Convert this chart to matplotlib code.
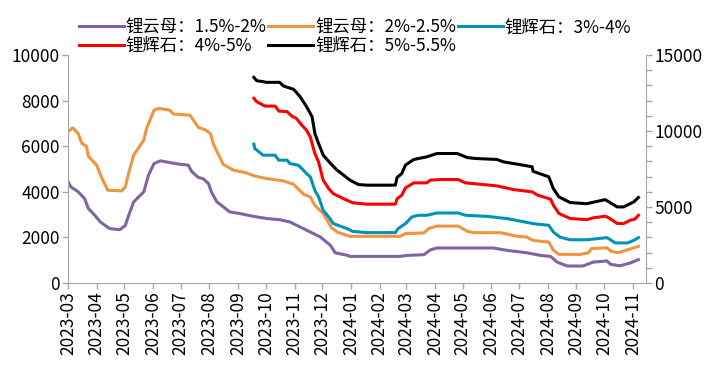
import matplotlib
matplotlib.use("Agg")
import matplotlib.pyplot as plt
import matplotlib.dates as mdates
from matplotlib.ticker import MultipleLocator
import pandas as pd

plt.rcParams["font.family"] = ["Noto Sans CJK SC", "DejaVu Sans"]

# 锂云母 (left axis)
lep1_dates = ["2023-03-01", "2023-03-04", "2023-03-12", "2023-03-19", "2023-03-23", "2023-03-30",
              "2023-04-05", "2023-04-15", "2023-04-26", "2023-05-02", "2023-05-05", "2023-05-11",
              "2023-05-22", "2023-05-27", "2023-06-02", "2023-06-09", "2023-06-21", "2023-06-30",
              "2023-07-09", "2023-07-13", "2023-07-20", "2023-07-25", "2023-07-31", "2023-08-03",
              "2023-08-09", "2023-08-16", "2023-08-23", "2023-09-03", "2023-09-17", "2023-10-02",
              "2023-10-16", "2023-10-27", "2023-11-07", "2023-11-18", "2023-11-29", "2023-12-10",
              "2023-12-15", "2023-12-28", "2023-12-31", "2024-02-23", "2024-03-02", "2024-03-20",
              "2024-03-27", "2024-04-03", "2024-06-03", "2024-06-18", "2024-07-09", "2024-07-24",
              "2024-08-04", "2024-08-11", "2024-08-22", "2024-09-08", "2024-09-19", "2024-10-04",
              "2024-10-08", "2024-10-18", "2024-10-29", "2024-11-07"]
lep1_vals = [4450, 4220, 4000, 3700, 3270, 2970,
             2680, 2390, 2340, 2530, 2900, 3560,
             4000, 4730, 5240, 5360, 5270, 5210,
             5170, 4880, 4630, 4580, 4360, 4000,
             3560, 3340, 3120, 3050, 2930, 2830,
             2780, 2680, 2460, 2240, 2020, 1650,
             1330, 1220, 1170, 1170, 1215, 1245,
             1460, 1540, 1540, 1435, 1330, 1215,
             1170, 920, 750, 750, 920, 970,
             820, 760, 880, 1030]

lep2_dates = ["2023-03-01", "2023-03-06", "2023-03-12", "2023-03-16", "2023-03-21", "2023-03-23",
              "2023-04-01", "2023-04-06", "2023-04-13", "2023-04-28", "2023-05-02", "2023-05-05",
              "2023-05-11", "2023-05-22", "2023-05-25", "2023-06-02", "2023-06-07", "2023-06-19",
              "2023-06-23", "2023-07-11", "2023-07-15", "2023-07-20", "2023-07-27", "2023-08-02",
              "2023-08-05", "2023-08-11", "2023-08-16", "2023-08-27", "2023-09-10", "2023-09-19",
              "2023-10-02", "2023-10-20", "2023-10-31", "2023-11-11", "2023-11-18", "2023-11-23",
              "2023-12-02", "2023-12-11", "2023-12-17", "2023-12-28", "2023-12-31", "2024-02-23",
              "2024-02-29", "2024-03-20", "2024-03-25", "2024-04-03", "2024-04-26", "2024-05-06",
              "2024-05-13", "2024-06-11", "2024-06-29", "2024-07-09", "2024-07-16", "2024-08-02",
              "2024-08-07", "2024-08-13", "2024-09-05", "2024-09-14", "2024-09-17", "2024-10-04",
              "2024-10-08", "2024-10-16", "2024-10-26", "2024-11-07"]
lep2_vals = [6630, 6810, 6560, 6120, 6000, 5560,
             5170, 4660, 4070, 4040, 4220, 4730,
             5610, 6270, 6780, 7580, 7660, 7580,
             7410, 7360, 7120, 6820, 6730, 6560,
             6120, 5610, 5200, 4950, 4830, 4690,
             4580, 4480, 4330, 3890, 3780, 3410,
             3050, 2430, 2240, 2090, 2050, 2050,
             2170, 2200, 2390, 2500, 2500, 2270,
             2210, 2210, 2050, 2020, 1870, 1800,
             1440, 1260, 1260, 1330, 1510, 1550,
             1400, 1330, 1460, 1610]

# 锂辉石 (right axis)
spo3_dates = ["2023-09-18", "2023-09-19", "2023-09-28", "2023-10-11", "2023-10-15", "2023-10-24",
              "2023-10-27", "2023-11-05", "2023-11-09", "2023-11-14", "2023-11-18", "2023-11-23",
              "2023-11-27", "2023-12-02", "2023-12-08", "2023-12-13", "2023-12-28", "2024-01-03",
              "2024-01-18", "2024-02-18", "2024-02-21", "2024-02-29", "2024-03-07", "2024-03-14",
              "2024-03-23", "2024-04-03", "2024-04-26", "2024-05-04", "2024-05-27", "2024-06-18",
              "2024-07-02", "2024-07-16", "2024-08-02", "2024-08-07", "2024-08-14", "2024-08-25",
              "2024-09-12", "2024-10-04", "2024-10-13", "2024-10-26", "2024-11-02", "2024-11-07"]
spo3_vals = [9135, 8850, 8410, 8410, 8080, 8080,
             7860, 7750, 7530, 7200, 6990, 6100,
             5670, 4790, 4350, 3910, 3580, 3400,
             3320, 3320, 3580, 3910, 4350, 4460,
             4460, 4610, 4610, 4460, 4390, 4240,
             4080, 3910, 3800, 3360, 3030, 2850,
             2850, 2990, 2640, 2640, 2810, 2990]

spo4_dates = ["2023-09-18", "2023-09-21", "2023-09-30", "2023-10-11", "2023-10-15", "2023-10-24",
              "2023-10-29", "2023-11-03", "2023-11-09", "2023-11-14", "2023-11-18", "2023-11-23",
              "2023-11-27", "2023-12-02", "2023-12-08", "2023-12-13", "2023-12-24", "2024-01-03",
              "2024-01-18", "2024-02-18", "2024-02-20", "2024-02-25", "2024-02-29", "2024-03-09",
              "2024-03-23", "2024-03-27", "2024-04-07", "2024-04-26", "2024-05-04", "2024-05-20",
              "2024-06-07", "2024-06-25", "2024-07-15", "2024-07-21", "2024-08-04", "2024-08-07",
              "2024-08-13", "2024-08-25", "2024-09-12", "2024-09-19", "2024-10-02", "2024-10-06",
              "2024-10-15", "2024-10-22", "2024-10-29", "2024-11-03", "2024-11-07"]
spo4_vals = [12150, 11930, 11640, 11640, 11310, 11270,
             10980, 10830, 10380, 10050, 9620, 8520,
             7970, 6770, 6210, 5880, 5550, 5280,
             5190, 5190, 5550, 5780, 6260, 6590,
             6590, 6770, 6810, 6810, 6590, 6500,
             6390, 6150, 6000, 5780, 5520, 5120,
             4580, 4250, 4170, 4290, 4400, 4290,
             3920, 3920, 4130, 4200, 4460]

spo5_dates = ["2023-09-18", "2023-09-21", "2023-10-02", "2023-10-16", "2023-10-20", "2023-10-31",
              "2023-11-07", "2023-11-14", "2023-11-20", "2023-11-23", "2023-11-27", "2023-12-02",
              "2023-12-10", "2023-12-17", "2023-12-24", "2023-12-31", "2024-01-09", "2024-01-18",
              "2024-02-18", "2024-02-20", "2024-02-25", "2024-02-29", "2024-03-09", "2024-03-23",
              "2024-04-03", "2024-04-25", "2024-05-06", "2024-05-16", "2024-06-07", "2024-06-14",
              "2024-06-29", "2024-07-15", "2024-07-16", "2024-08-02", "2024-08-07", "2024-08-13",
              "2024-08-25", "2024-09-12", "2024-10-02", "2024-10-15", "2024-10-22", "2024-11-02",
              "2024-11-07"]
spo5_vals = [13530, 13310, 13200, 13200, 12960, 12740,
             12260, 11600, 10940, 9840, 9180, 8420,
             7860, 7430, 7100, 6770, 6480, 6440,
             6440, 6950, 7200, 7760, 8130, 8300,
             8520, 8520, 8250, 8190, 8130, 7970,
             7820, 7650, 7350, 6990, 6210, 5670,
             5300, 5220, 5490, 5010, 5010, 5340,
             5630]

labels = ["锂云母：1.5%-2%", "锂云母：2%-2.5%", "锂辉石：3%-4%", "锂辉石：4%-5%", "锂辉石：5%-5.5%"]
colors = ["#8064A2", "#F0953F", "#0092BA", "#FF0000", "#000000"]

fig = plt.figure(figsize=(7.16, 3.79), dpi=100)
ax = fig.add_axes([0.095, 0.253, 0.807, 0.602])
ax2 = ax.twinx()

lines = []
for d, v, c, lab in [(lep1_dates, lep1_vals, colors[0], labels[0]),
                     (lep2_dates, lep2_vals, colors[1], labels[1])]:
    ln, = ax.plot(pd.to_datetime(d), v, color=c, lw=2.2, label=lab)
    lines.append(ln)
for d, v, c, lab in [(spo3_dates, spo3_vals, colors[2], labels[2]),
                     (spo4_dates, spo4_vals, colors[3], labels[3]),
                     (spo5_dates, spo5_vals, colors[4], labels[4])]:
    ln, = ax2.plot(pd.to_datetime(d), v, color=c, lw=2.2, label=lab)
    lines.append(ln)

ax.set_ylim(0, 10000)
ax.yaxis.set_major_locator(MultipleLocator(2000))
ax2.set_ylim(0, 15000)
ax2.yaxis.set_major_locator(MultipleLocator(5000))
ax2.yaxis.set_minor_locator(MultipleLocator(1000))

ax.set_xlim(pd.Timestamp("2023-03-01"), pd.Timestamp("2024-11-15"))
ax.xaxis.set_major_locator(mdates.MonthLocator())
ax.xaxis.set_major_formatter(mdates.DateFormatter("%Y-%m"))
for lab in ax.get_xticklabels():
    lab.set_rotation(90)

grey = "#A6A6A6"
for a in (ax, ax2):
    a.spines["top"].set_visible(False)
    for s in ("left", "right", "bottom"):
        a.spines[s].set_color(grey)
ax2.spines["left"].set_visible(False)
ax2.spines["bottom"].set_visible(False)
ax.spines["right"].set_visible(False)

ax.tick_params(axis="both", labelsize=12.5, color=grey, length=4, width=1, pad=2)
ax2.tick_params(axis="y", which="both", labelsize=12.5, color=grey, length=4, width=1, pad=2)

# legend filled column-wise, so reorder to read row by row
order = [0, 3, 1, 4, 2]
fig.legend([lines[i] for i in order], [labels[i] for i in order],
           loc="upper left", bbox_to_anchor=(0.1, 0.97), ncol=3, frameon=False,
           fontsize=12.5, handlelength=2.6, handletextpad=0.1, columnspacing=0.1,
           labelspacing=0.05, borderaxespad=0)

fig.savefig("out.png", dpi=100)
